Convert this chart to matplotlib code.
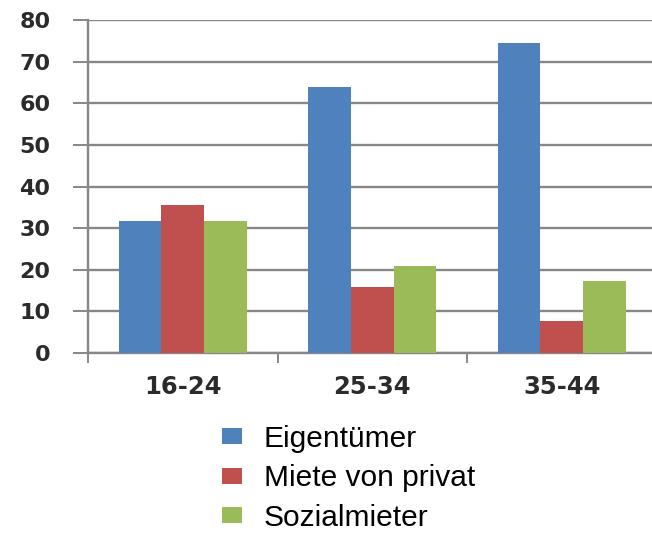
import matplotlib
matplotlib.use("Agg")
import matplotlib.pyplot as plt
import numpy as np

categories = ["16-24", "25-34", "35-44"]
series_names = ["Eigentümer", "Miete von privat", "Sozialmieter"]
eigentuemer = [31.6, 63.8, 74.5]
miete_privat = [35.5, 15.8, 7.8]
sozialmieter = [31.6, 20.9, 17.4]
yticks = [0, 10, 20, 30, 40, 50, 60, 70, 80]

colors = ["#4F81BD", "#C0504D", "#9BBB59"]
grid_c = "#878787"

fig = plt.figure(figsize=(6.52, 5.42), dpi=100)
ax = fig.add_axes([0.135, 0.3487, 0.872, 0.6144])

x = np.arange(len(categories))
w = 0.225
handles = []
for i, (vals, name) in enumerate(zip([eigentuemer, miete_privat, sozialmieter], series_names)):
    b = ax.bar(x + (i - 1) * w, vals, width=w, color=colors[i], label=name, zorder=3)
    handles.append(b)

ax.set_xlim(-0.5, 2.5)
ax.set_ylim(0, 80)
ax.set_yticks(yticks)
ax.set_yticklabels([str(v) for v in yticks])
ax.yaxis.grid(True, color=grid_c, linewidth=1.7, zorder=0)
ax.set_axisbelow(True)

for s in ["top", "right"]:
    ax.spines[s].set_visible(False)
for s in ["left", "bottom"]:
    ax.spines[s].set_color(grid_c)
    ax.spines[s].set_linewidth(1.7)

ax.tick_params(axis="y", direction="out", length=11, width=1.4, color=grid_c,
               pad=16, labelsize=16, labelcolor="#2b2b2b")
ax.set_xticks(x)
ax.set_xticklabels(categories)
ax.tick_params(axis="x", which="major", length=0, pad=16, labelsize=17.5, labelcolor="#2b2b2b")
ax.set_xticks([-0.5, 0.5, 1.5, 2.5], minor=True)
ax.tick_params(axis="x", which="minor", direction="out", length=7, width=1.4, color=grid_c)
for lab in ax.get_xticklabels() + ax.get_yticklabels():
    lab.set_fontweight("bold")
    lab.set_family("DejaVu Sans")

leg = fig.legend(handles=handles, labels=series_names, loc="upper left",
                 bbox_to_anchor=(0.3405, 0.216), frameon=False,
                 prop={"family": "Liberation Sans", "size": 21.5},
                 handlelength=0.68, handleheight=0.44, handletextpad=0.72,
                 labelspacing=0.38, borderaxespad=0, borderpad=0)

fig.savefig("out.png", dpi=100)
